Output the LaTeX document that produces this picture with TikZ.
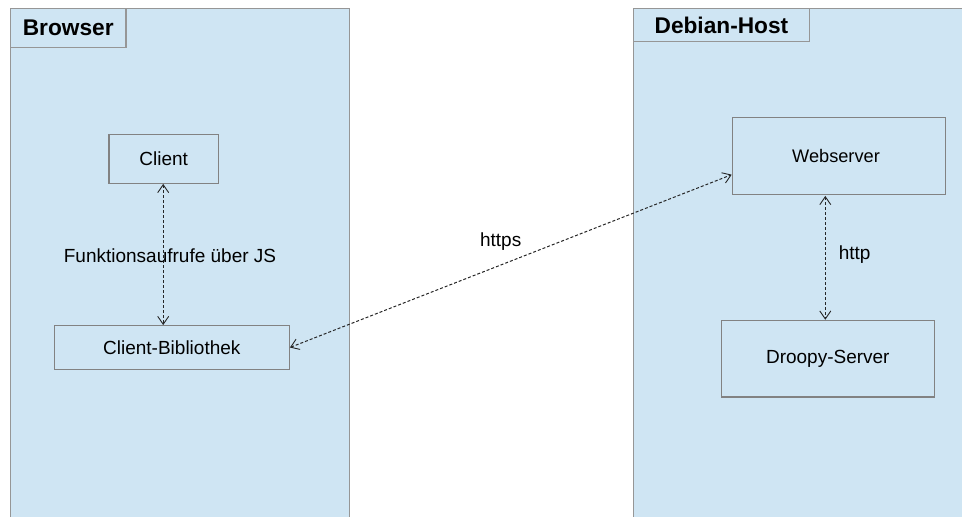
\documentclass[tikz,border=0pt]{standalone}
\usepackage{fontspec}
\setmainfont{Liberation Sans}
\usetikzlibrary{arrows.meta,calc}
\definecolor{bluefill}{RGB}{207,229,243}
\definecolor{boxline}{RGB}{130,130,130}
\definecolor{frameline}{RGB}{150,150,150}
\tikzset{
  frame/.style={draw=frameline, fill=bluefill, line width=1.2pt, anchor=north west, inner sep=0pt},
  header/.style={draw=frameline, fill=bluefill, line width=1.2pt, anchor=north west, inner sep=0pt, font=\fontsize{22.7}{26}\selectfont\bfseries},
  box/.style={draw=boxline, fill=bluefill, line width=1.2pt, inner sep=0pt, font=\fontsize{19}{22}\selectfont},
  lbl/.style={font=\fontsize{19}{22}\selectfont, inner sep=0pt, anchor=base},
  conn/.style={draw=black!85, line width=1pt, dash pattern=on 3pt off 2pt,
    {Straight Barb[length=8pt,width=11pt,line width=0.9pt]}-{Straight Barb[length=8pt,width=11pt,line width=0.9pt]}},
}
\begin{document}
\begin{tikzpicture}[x=1pt,y=-1pt]
\useasboundingbox (0,0) rectangle (962,517);
\clip (0,0) rectangle (962,517);
% frames
\node[frame, minimum width=339pt, minimum height=560pt] (browser) at (10,8) {};
\node[header, minimum width=115.3pt, minimum height=39pt] (browserhead) at (10,8) {Browser};
\node[frame, minimum width=450pt, minimum height=560pt] (debian) at (633,8) {};
\node[header, minimum width=175.7pt, minimum height=33pt] (debianhead) at (633,8) {Debian-Host};
% boxes
\node[box, minimum width=109.3pt, minimum height=48.6pt] (client) at (163.7,159) {Client};
\node[box, minimum width=235pt, minimum height=43.6pt] (lib) at (171.8,347.5) {Client-Bibliothek};
\node[box, minimum width=213.4pt, minimum height=76.6pt] (web) at (839,156) {\fontsize{18.2}{22}\selectfont\hspace{-6pt}Webserver};
\node[box, minimum width=213pt, minimum height=76.7pt] (droopy) at (827.8,358.7) {Droopy-Server};
% connectors
\coordinate (webin) at ($(web.south west)!0.26!(web.north west)$);
\coordinate (cl) at ($(client.south)+(-0.5,0)$);
\draw[conn] (cl) -- (cl |- lib.north);
\draw[conn] (lib.east) -- (webin);
\coordinate (wb) at ($(web.south -| droopy.north)+(-2.5,1)$);
\draw[conn] (wb) -- (wb |- droopy.north);
% labels
\node[lbl] (lfunk) at (170,262.7) {Funktionsaufrufe über JS};
\node[lbl] (lhttps) at (500.7,246) {https};
\node[lbl] (lhttp) at (854.7,259.5) {http};
\end{tikzpicture}
\end{document}
